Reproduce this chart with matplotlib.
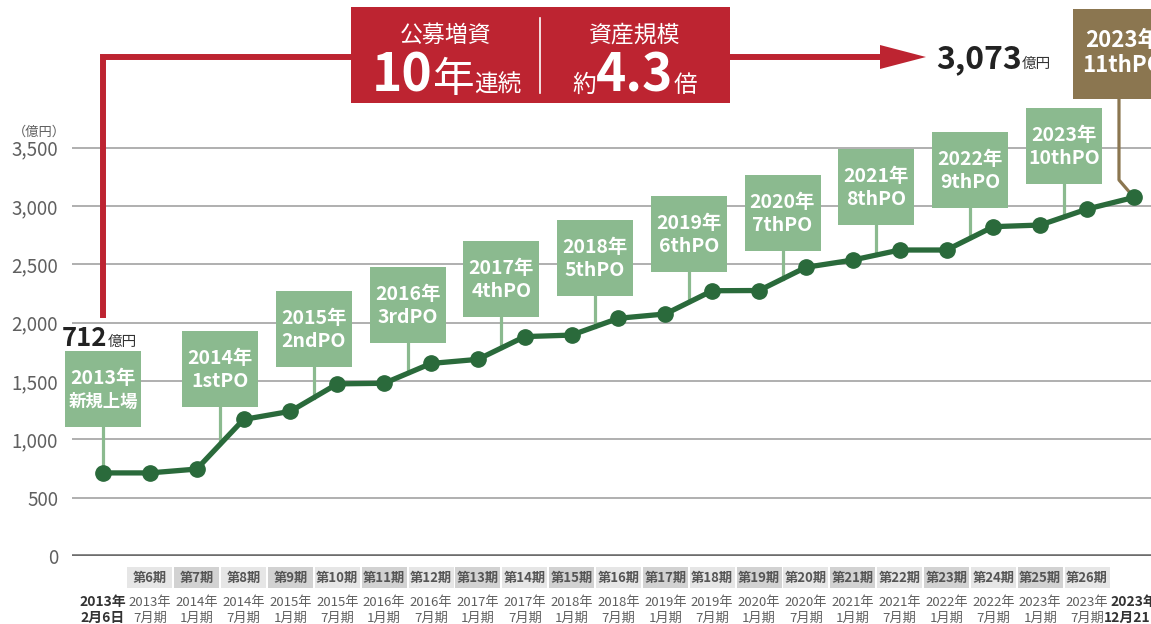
import numpy as np
import matplotlib.pyplot as plt
import matplotlib.transforms as mtransforms
from matplotlib.patches import Rectangle, Polygon
from matplotlib.lines import Line2D

plt.rcParams['font.family'] = ['Noto Sans CJK JP', 'DejaVu Sans']

# asset size (億円) at each period end
values = [712, 712, 745, 1170, 1240, 1475, 1480, 1650, 1685, 1880, 1893, 2037,
          2074, 2273, 2275, 2474, 2536, 2622, 2622, 2822, 2836, 2973, 3073]
periods = ['', '第6期', '第7期', '第8期', '第9期', '第10期', '第11期', '第12期',
           '第13期', '第14期', '第15期', '第16期', '第17期', '第18期', '第19期',
           '第20期', '第21期', '第22期', '第23期', '第24期', '第25期', '第26期', '']
date_top = ['2013年', '2013年', '2014年', '2014年', '2015年', '2015年', '2016年',
            '2016年', '2017年', '2017年', '2018年', '2018年', '2019年', '2019年',
            '2020年', '2020年', '2021年', '2021年', '2022年', '2022年', '2023年',
            '2023年', '2023年']
date_bottom = ['2月6日', '7月期', '1月期', '7月期', '1月期', '7月期', '1月期',
               '7月期', '1月期', '7月期', '1月期', '7月期', '1月期', '7月期',
               '1月期', '7月期', '1月期', '7月期', '1月期', '7月期', '1月期',
               '7月期', '12月21日']

# public offerings: label, period index where the stem meets the line
po_top = ['2013年', '2014年', '2015年', '2016年', '2017年', '2018年', '2019年',
          '2020年', '2021年', '2022年', '2023年']
po_bottom = ['新規上場', '1stPO', '2ndPO', '3rdPO', '4thPO', '5thPO', '6thPO',
             '7thPO', '8thPO', '9thPO', '10thPO']
po_x = [0, 2.5, 4.5, 6.5, 8.5, 10.5, 12.5, 14.5, 16.5, 18.5, 20.5]
po_box_bottom = [1105, 1277, 1617, 1828, 2051, 2231, 2436, 2616, 2839, 2985, 3185]

GREEN = '#8bba8f'
DARK = '#2a6a3b'
RED = '#bd2431'
BROWN = '#8b7650'
GREY = '#5f5f5f'

W, H = 1151, 624
fig = plt.figure(figsize=(W / 100, H / 100), dpi=100)
ax = fig.add_axes([72 / W, (H - 556) / H, (W - 72) / W, 556 / H])
XS = 1079 / 23.025   # px per period
YS = 0.1167          # px per 億円
ax.set_xlim(-0.6615, 22.363)
ax.set_ylim(0, 556 / YS)
for s in ax.spines.values():
    s.set_visible(False)
ax.set_xticks([])
ax.set_yticks(range(0, 3501, 500))
ax.yaxis.set_major_formatter(plt.FuncFormatter(lambda v, p: '{:,.0f}'.format(v)))
ax.tick_params(axis='y', length=0, pad=10, labelsize=13.5, labelcolor=GREY)
ax.yaxis.grid(True, color='#9a9a9a', lw=1.1)
ax.set_axisbelow(True)
ax.axhline(0, color='#6d6d6d', lw=2.6, zorder=2)

x = np.arange(len(values))
ax.plot(x, values, color=DARK, lw=3.8, marker='o', ms=11, zorder=6,
        solid_capstyle='round', clip_on=False)


def dx(px):
    return px / XS


def dy(px):
    return px / YS


# PO boxes
for i in range(len(po_top)):
    xi = po_x[i]
    yb = po_box_bottom[i]
    ax.plot([xi, xi], [np.interp(xi, x, values), yb], color=GREEN, lw=2.3, zorder=3)
    ax.add_patch(Rectangle((xi - dx(38), yb), dx(76), dy(76), fc=GREEN, ec='none',
                           zorder=4, clip_on=False))
    ax.text(xi, yb + dy(43), po_top[i], ha='center', va='baseline', color='white',
            fontsize=14, fontweight='bold', zorder=5)
    fs2 = 12.5 if i == 0 else 14
    ax.text(xi, yb + dy(20), po_bottom[i], ha='center', va='baseline', color='white',
            fontsize=fs2, fontweight='bold', zorder=5)

# 11thPO box (brown)
x11 = 21.68
ax.plot([len(values) - 1, x11, x11], [values[-1], 3222, 3916], color=BROWN, lw=2.3,
        zorder=3, clip_on=False)
ax.add_patch(Rectangle((x11 - dx(46), 3916), dx(92), dy(90), fc=BROWN, ec='none',
                       zorder=4, clip_on=False))
ax.text(x11 + dx(4), 3916 + dy(52), '2023年', ha='center', va='baseline', color='white',
        fontsize=16, fontweight='bold', zorder=5, clip_on=False)
ax.text(x11 + dx(4), 3916 + dy(27), '11thPO', ha='center', va='baseline', color='white',
        fontsize=16, fontweight='bold', zorder=5, clip_on=False)


def fp(px, py):
    return px / W, 1 - py / H


renderer = fig.canvas.get_renderer()


def chain(pieces, px, py, align='left'):
    # pieces: list of (text, fontsize, weight, color); placed side by side on one baseline
    arts = []
    cur = px
    for t, fs, wt, c in pieces:
        a = fig.text(*fp(cur, py), t, fontsize=fs, fontweight=wt, color=c,
                     ha='left', va='baseline', zorder=10)
        bb = a.get_window_extent(renderer)
        cur += bb.width
        arts.append(a)
    if align == 'center':
        shift = (cur - px) / 2
        for a in arts:
            ox, oy = a.get_position()
            a.set_position((ox - shift / W, oy))


# red banner
x0 = ax.transData.transform((0, 0))[0]
fig.add_artist(Line2D([x0 / W, x0 / W, 885 / W], [1 - 315 / H, 1 - 57 / H, 1 - 57 / H],
                      color=RED, lw=4.3, solid_joinstyle='miter', zorder=8))
fig.add_artist(Polygon([fp(880, 45), fp(926, 57), fp(880, 69)], closed=True,
                       fc=RED, ec='none', transform=fig.transFigure, zorder=8))
fig.add_artist(Rectangle(fp(351, 103), 379 / W, 96 / H, fc=RED, ec='none',
                         transform=fig.transFigure, zorder=9))
fig.add_artist(Line2D([540 / W, 540 / W], [1 - 18 / H, 1 - 93 / H], color='white',
                      lw=1.2, zorder=10))
chain([('公募増資', 16.5, 'normal', 'white')], 446, 42, 'center')
chain([('10', 37, 'bold', 'white'), ('年', 30, 'normal', 'white'),
       ('連続', 17, 'normal', 'white')], 447, 92, 'center')
chain([('資産規模', 16.5, 'normal', 'white')], 635, 42, 'center')
chain([('約', 17, 'normal', 'white'), ('4.3', 37, 'bold', 'white'),
       ('倍', 17, 'normal', 'white')], 635, 92, 'center')

chain([('3,073', 23, 'bold', '#222222'), ('億円', 10.5, 'normal', '#333333')], 936, 68)
chain([('712', 18.5, 'bold', '#222222'), ('億円', 10.5, 'normal', '#333333')], 62, 346)
chain([('（億円）', 9.5, 'normal', GREY)], 39, 136, 'center')

# period labels and dates along the bottom
bt = mtransforms.blended_transform_factory(ax.transData, fig.transFigure)
for i in range(len(values)):
    if periods[i]:
        fc = '#e6e6e6' if i % 2 == 1 else '#d2d2d2'
        ax.add_patch(Rectangle((i - dx(22.5), 1 - 588 / H), dx(45), 21 / H, fc=fc,
                               ec='none', transform=bt, clip_on=False))
        ax.text(i, 1 - 577.5 / H, periods[i], transform=bt, ha='center', va='center',
                fontsize=9.5, fontweight='bold', color='#555555', clip_on=False)
    edge = i == 0 or i == len(values) - 1
    ax.text(i, 1 - 606 / H, date_top[i], transform=bt, ha='center', va='baseline',
            fontsize=10 if edge else 9.5, fontweight='bold' if edge else 'normal',
            color='#333333' if edge else GREY, clip_on=False)
    ax.text(i, 1 - 622 / H, date_bottom[i], transform=bt, ha='center', va='baseline',
            fontsize=10 if edge else 9.5, fontweight='bold' if edge else 'normal',
            color='#333333' if edge else GREY, clip_on=False)

fig.savefig('out.png', dpi=100)
